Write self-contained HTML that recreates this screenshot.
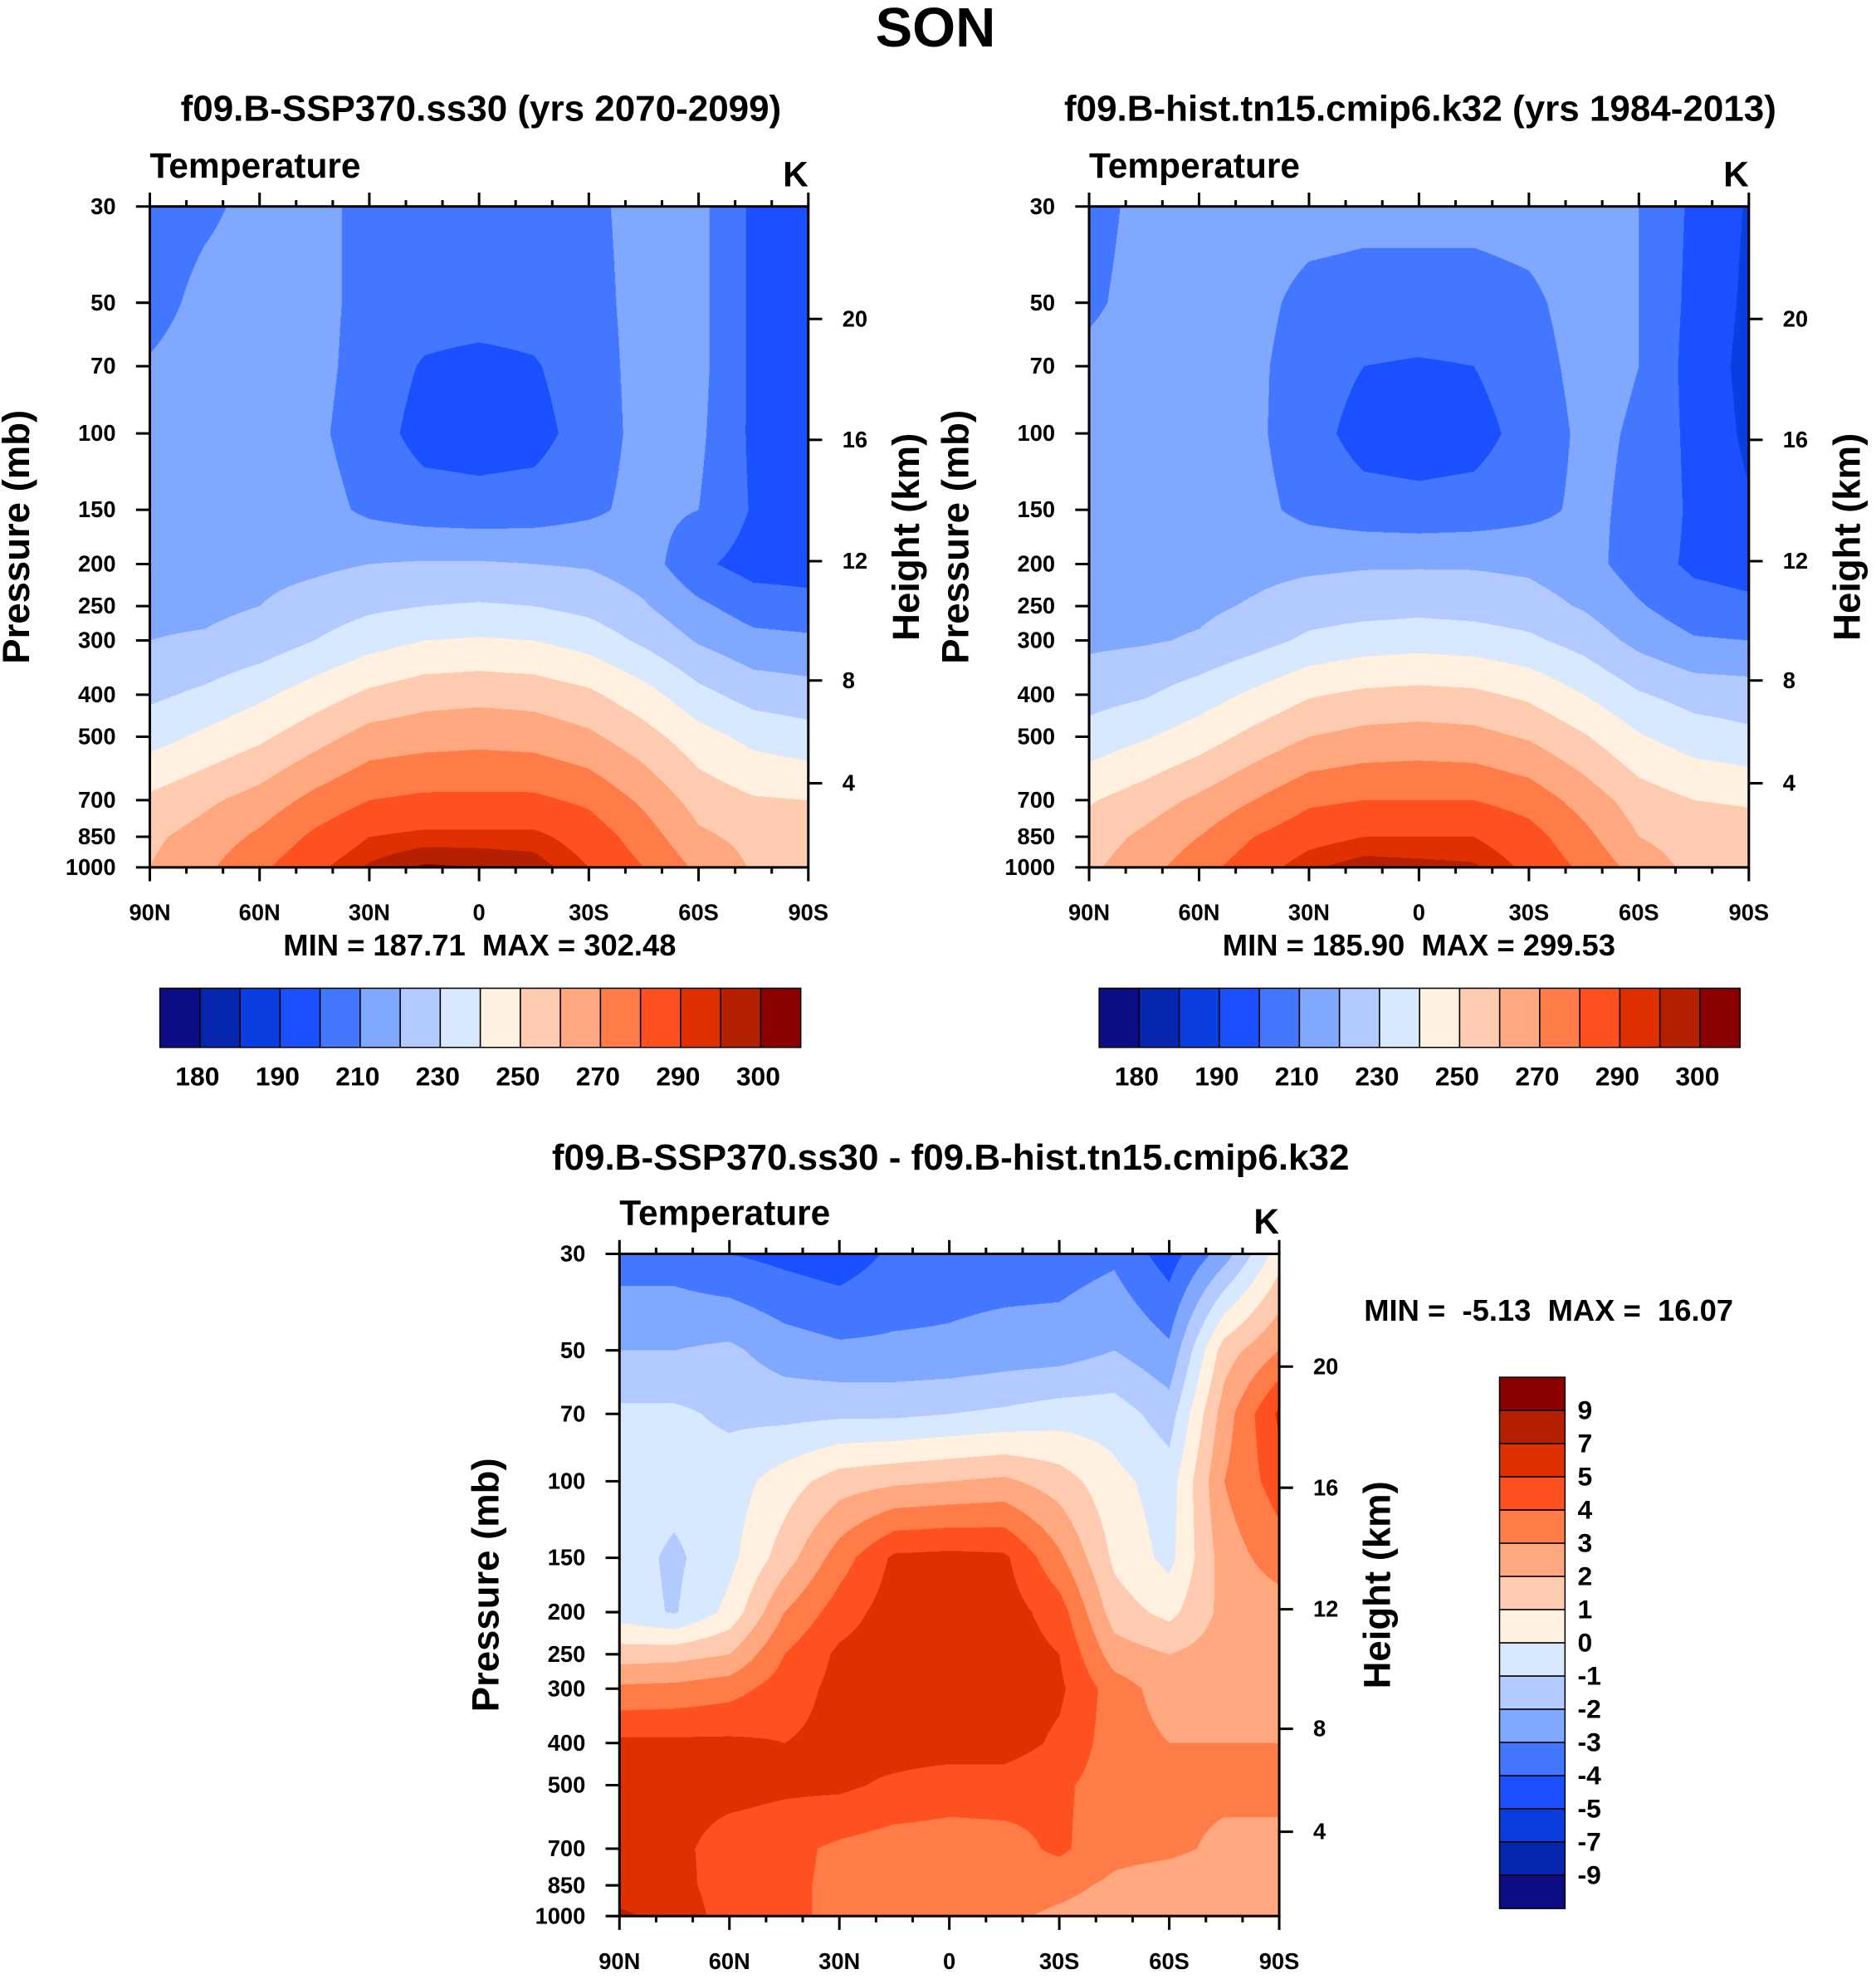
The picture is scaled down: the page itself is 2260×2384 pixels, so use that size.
<!DOCTYPE html>
<html><head><meta charset="utf-8">
<style>
html,body{margin:0;padding:0;background:#fff;overflow:hidden}
#root{position:absolute;left:0;top:0;width:1490px;height:1572px;transform-origin:0 0;transform:scale(1.51678,1.51654);font-family:"Liberation Sans",Arial,sans-serif}
canvas{position:absolute}
svg{position:absolute;left:0;top:0}
text{font-family:"Liberation Sans",Arial,sans-serif;font-weight:bold;fill:#000;white-space:pre}
</style></head>
<body>
<div id="root">
<canvas id="c1"></canvas>
<canvas id="c2"></canvas>
<canvas id="c3"></canvas>
<svg id="ov" width="1490" height="1572" viewBox="0 0 1490 1572"></svg>
</div>
<script>
const PLEVS=[30,50,70,100,150,200,250,300,400,500,700,850,1000];
const LATS=[90,75,60,45,30,15,0,-15,-30,-45,-60,-75,-90];
const COLORS=["#0c0c85","#0626b0","#0a3ee0","#1a50ff","#4477ff","#80a8ff","#b2caff","#d8e8ff","#fff0e0","#ffcbb0","#ffa880","#ff7c48","#ff5020","#e03000","#b42000","#8b0000"];
const LEVELS_T=[180,185,190,200,210,220,230,240,250,260,270,280,290,295,300];
const LABELS_T=["180","190","210","230","250","270","290","300"];
const LEVELS_D=[-9,-7,-5,-4,-3,-2,-1,0,1,2,3,4,5,7,9];
const LATLABELS=["90N","60N","30N","0","30S","60S","90S"];
const PTICKS=[30,50,70,100,150,200,250,300,400,500,700,850,1000];
const HTICKS=[20,16,12,8,4];
const HTICK_P=[54.5,103.5,197,371,640];
const T_SSP=[
[204,208,213,212,208,206,206,206,208,213,213,198,192],
[206,213,215,213,207,205,205,205,207,213,213,198,193],
[211,215,215,213,206,199,197,199,206,213,213,198,194],
[214,215,215,212,205,196,195,196,205,213,212,198,195],
[215,215,215,214,208,205,204,205,208,213,210,199,197],
[216,216,217,218,220,221,221,220,219,215,202,196,196],
[218,218,220,224,228,230,231,230,227,221,212,205,203],
[220,221,224,230,236,240,241,240,236,228,219,213,212],
[228,232,238,245,252,256,257,256,252,244,233,226,224],
[236,242,248,256,264,266,267,266,262,254,244,237,234],
[252,258,264,273,280,282,282,282,278,268,256,251,250],
[258,264,272,282,290,292,292,292,286,275,262,257,256],
[260,268,278,288,296,301,300,298,290,280,268,259,257]];
const T_HIST=[
[206,213,215,215,214,213,213,213,214,215,210,198,189],
[208,214,215,213,207,206,206,206,208,214,210,197,188],
[213,215,215,212,205,200,199,200,206,213,210,196,187],
[214,215,215,212,204,196,195,196,204,212,209,197,188],
[215,215,215,213,207,204,203,204,207,212,208,198,191],
[215,216,216,217,218,219,219,219,218,214,205,198,196],
[216,217,218,221,225,226,227,226,224,219,211,204,202],
[218,219,221,226,232,235,236,235,232,226,217,211,210],
[226,229,235,242,249,252,253,252,248,240,231,226,225],
[234,239,245,253,260,263,264,263,259,251,241,235,232],
[249,255,262,270,278,280,280,280,276,266,255,250,249],
[255,262,270,280,287,290,290,290,284,273,260,255,254],
[258,266,276,286,294,298,297,296,288,278,266,257,255]];
const T_DIFF=[
[-3.5,-3.5,-4,-4.3,-4.6,-3.8,-3.5,-3.5,-3.5,-3.2,-4.5,-2.5,0.5],
[-2,-2,-1.8,-2.5,-2.8,-2.8,-2.8,-2.6,-2.5,-2,-2.8,1.5,3],
[-0.8,-0.8,-1.2,-1.3,-1.2,-1.2,-1,-0.8,-0.5,-0.5,-1.5,2.5,5.2],
[-0.5,-0.6,-0.5,0.5,1.5,1.8,2,2.2,1.5,0.3,-0.5,3,4.5],
[-0.5,-1.2,-0.3,1.5,3.5,5.2,5.3,5.2,3.2,0.8,-0.3,2.5,3.5],
[-0.5,-1.1,0.3,3,4.5,5.5,5.5,5.5,4.5,1.5,0.7,2.3,2.5],
[1.5,1.6,2,4,5.2,5.6,5.6,5.6,5,2.5,2,2.5,2.5],
[3.2,3.3,3.6,4.5,5.3,5.6,5.6,5.6,5.2,3.5,2.5,2.6,2.6],
[5.2,5.2,5.2,5,5.3,5.5,5.5,5.5,4.8,3.5,3,3,3],
[5.3,5.4,5.4,5.2,5.2,4.8,4.5,4.5,4.2,3.5,3.2,3.2,3],
[5.4,5.3,4.5,4.3,3.8,3.5,3.5,3.6,4.2,3.3,3.2,2.8,3],
[5.6,5.5,4.3,4.2,3.8,3.6,3.5,3.6,3.3,2.8,2.5,2.3,2.5],
[7.5,6,4.3,4.2,3.8,3.5,3.3,3.2,2.8,2.5,2.3,2,2.5]];

const PANELS=[
 {id:"c1",x:119,y:164,w:523,h:525,grid:T_SSP,lev:LEVELS_T,name:"ssp370"},
 {id:"c2",x:865,y:164,w:524,h:525,grid:T_HIST,lev:LEVELS_T,name:"hist"},
 {id:"c3",x:492,y:996,w:524,h:526,grid:T_DIFF,lev:LEVELS_D,name:"difference"}];
const LN=Math.log(1000/30);
function hex(c){return [parseInt(c.substr(1,2),16),parseInt(c.substr(3,2),16),parseInt(c.substr(5,2),16)];}
const RGB=COLORS.map(hex);
function colorIdx(v,lev){let i=0;while(i<lev.length&&v>=lev[i])i++;return i;}
function sample(grid,lat,p){
  let c=(90-lat)/15;c=Math.max(0,Math.min(11.9999,c));const c0=Math.floor(c),tc=c-c0;
  let r=0;while(r<11&&p>PLEVS[r+1])r++;
  const tr=Math.max(0,Math.min(1,Math.log(p/PLEVS[r])/Math.log(PLEVS[r+1]/PLEVS[r])));
  const a=grid[r][c0]*(1-tc)+grid[r][c0+1]*tc, b=grid[r+1][c0]*(1-tc)+grid[r+1][c0+1]*tc;
  return a*(1-tr)+b*tr;}
const S=2;
PANELS.forEach(P=>{
  const cv=document.getElementById(P.id);
  cv.width=P.w*S;cv.height=P.h*S;
  cv.style.left=P.x+"px";cv.style.top=P.y+"px";cv.style.width=P.w+"px";cv.style.height=P.h+"px";
  const ctx=cv.getContext("2d");const img=ctx.createImageData(cv.width,cv.height);
  for(let py=0;py<cv.height;py++){
    const p=30*Math.exp(LN*(py+0.5)/cv.height);
    for(let px=0;px<cv.width;px++){
      const lat=90-180*(px+0.5)/cv.width;
      const v=sample(P.grid,lat,p);const col=RGB[colorIdx(v,P.lev)];
      const k=(py*cv.width+px)*4;img.data[k]=col[0];img.data[k+1]=col[1];img.data[k+2]=col[2];img.data[k+3]=255;}}
  ctx.putImageData(img,0,0);
});
const NS="http://www.w3.org/2000/svg";const ov=document.getElementById("ov");
function el(tag,attrs,txt){const e=document.createElementNS(NS,tag);for(const k in attrs)e.setAttribute(k,attrs[k]);if(txt!==undefined)e.textContent=txt;ov.appendChild(e);return e;}
function txt(x,y,s,size,anchor,name,rot){const e=el("text",{x:x,y:y,"font-size":size,"text-anchor":anchor||"middle"},s);if(rot)e.setAttribute("transform","rotate(-90 "+x+" "+y+")");


return e;}
txt(743,37,"SON",44,"middle","figure-title");
txt(382,96,"f09.B-SSP370.ss30 (yrs 2070-2099)",29,"middle","ssp370-panel-title");
txt(1128,96,"f09.B-hist.tn15.cmip6.k32 (yrs 1984-2013)",29,"middle","hist-panel-title");
txt(755,929,"f09.B-SSP370.ss30 - f09.B-hist.tn15.cmip6.k32",29,"middle","difference-panel-title");
function yP(P,p){return P.y+P.h*Math.log(p/30)/LN;}
function xL(P,lat){return P.x+P.w*(90-lat)/180;}
PANELS.forEach(P=>{
  const f=el("rect",{x:P.x,y:P.y,width:P.w,height:P.h,fill:"none",stroke:"#000","stroke-width":2});
  
  
  txt(P.x,P.y-23,"Temperature",28,"start",P.name+"-variable-label");
  txt(P.x+P.w,P.y-16,"K",28,"end",P.name+"-units-label");
  for(let lat=90;lat>=-90;lat-=10){const x=xL(P,lat);const major=lat%30===0;const L=major?11:5;
    el("line",{x1:x,y1:P.y,x2:x,y2:P.y-L,stroke:"#000","stroke-width":2});
    el("line",{x1:x,y1:P.y+P.h,x2:x,y2:P.y+P.h+L,stroke:"#000","stroke-width":2});}
  LATLABELS.forEach((s,i)=>{txt(xL(P,90-30*i),P.y+P.h+42,s,18,"middle",P.name+"-x-tick-label");});
  PTICKS.forEach(p=>{const y=yP(P,p);el("line",{x1:P.x,y1:y,x2:P.x-11,y2:y,stroke:"#000","stroke-width":2});
    txt(P.x-27,y+6,String(p),18,"end",P.name+"-y-tick-label");});
  HTICKS.forEach((h,i)=>{const y=yP(P,HTICK_P[i]);el("line",{x1:P.x+P.w,y1:y,x2:P.x+P.w+11,y2:y,stroke:"#000","stroke-width":2});
    txt(P.x+P.w+27,y+6,String(h),18,"start",P.name+"-height-tick-label");});
  txt(P.x-96,P.y+P.h/2,"Pressure (mb)",30,"middle",P.name+"-y-axis-title",true);
  txt(P.x+P.w+88,P.y+P.h/2,"Height (km)",30,"middle",P.name+"-height-axis-title",true);
});
txt(381,759,"MIN = 187.71  MAX = 302.48",24,"middle","ssp370-min-max");
txt(1127,759,"MIN = 185.90  MAX = 299.53",24,"middle","hist-min-max");
txt(1230,1049,"MIN =  -5.13  MAX =  16.07",24,"middle","difference-min-max");
[[127,"ssp370"],[873,"hist"]].forEach(([x0,n])=>{
  const bw=509/16;
  COLORS.forEach((c,i)=>{const r=el("rect",{x:x0+i*bw,y:785,width:bw,height:47,fill:c,stroke:"#000","stroke-width":1});
    
    });
  LABELS_T.forEach((s,i)=>{const bi=[1,3,5,7,9,11,13,15][i];txt(x0+bi*bw-2,862,s,21,"middle",n+"-colorbar-label");});
});
(function(){const x0=1191,y0=1094,bw=52,bh=422/16;
  for(let i=0;i<16;i++){const r=el("rect",{x:x0,y:y0+i*bh,width:bw,height:bh,fill:COLORS[15-i],stroke:"#000","stroke-width":1});
    
    }
  for(let i=0;i<15;i++){txt(x0+62,y0+(i+1)*bh+7,String(LEVELS_D[14-i]),21,"start","difference-colorbar-label");}
})();
</script>
</body></html>
